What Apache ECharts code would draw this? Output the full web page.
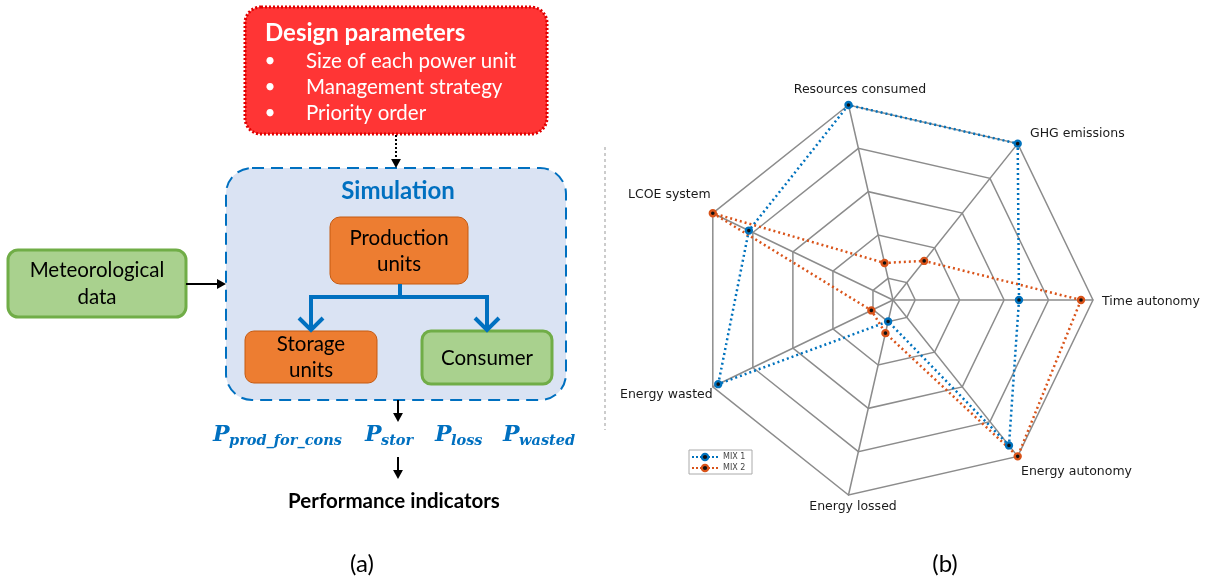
<!DOCTYPE html>
<html>
<head>
<meta charset="utf-8">
<script src="https://cdn.jsdelivr.net/npm/echarts@6/dist/echarts.min.js"></script>
<style>
  html, body { margin: 0; padding: 0; background: #fff; }
  #main { width: 1208px; height: 583px; }
</style>
</head>
<body>
<div id="main"></div>
<script>
// Radar data (normalised to the outer ring)
var indicatorNames = ['Time autonomy', 'GHG emissions', 'Resources consumed', 'LCOE system',
    'Energy wasted', 'Energy lossed', 'Energy autonomy'];
var seriesNames = ['MIX 1', 'MIX 2'];
var mix1Values = [0.63, 1.0, 1.0, 0.80, 0.97, 0.11, 0.93];
var mix2Values = [0.94, 0.25, 0.19, 1.0, 0.12, 0.17, 1.0];
var seriesColors = ['#0072BD', '#D95319'];

// Diagram texts
var designLines = ['Size of each power unit', 'Management strategy', 'Priority order'];
var powerLabels = [['P', 'prod_for_cons'], ['P', 'stor'], ['P', 'loss'], ['P', 'wasted']];

var chart = echarts.init(document.getElementById('main'));

// Small helpers for the diagram elements
var BLUE = '#0070C0';
var FONT = 'Lato, "Open Sans", sans-serif';
var els = [];

function box(x, y, w, h, r, fill, stroke, lw, dash) {
    els.push({
        type: 'rect', z2: 1,
        shape: { x: x, y: y, width: w, height: h, r: r },
        style: { fill: fill, stroke: stroke, lineWidth: lw, lineDash: dash || null }
    });
}
function label(x, y, str, font, fill, align) {
    els.push({
        type: 'text', z2: 10,
        style: {
            x: x, y: y, text: str, font: font, fill: fill || '#000',
            align: align || 'center', verticalAlign: 'middle'
        }
    });
}
function line(points, stroke, lw, dash) {
    els.push({
        type: 'polyline', z2: 5,
        shape: { points: points },
        style: { stroke: stroke, lineWidth: lw, lineDash: dash || null, fill: null }
    });
}
function headDown(x, y, size) {
    els.push({
        type: 'polygon', z2: 6,
        shape: { points: [[x - size * 0.55, y - size], [x + size * 0.55, y - size], [x, y]] },
        style: { fill: '#000' }
    });
}
function headRight(x, y, size) {
    els.push({
        type: 'polygon', z2: 6,
        shape: { points: [[x - size, y - size * 0.55], [x - size, y + size * 0.55], [x, y]] },
        style: { fill: '#000' }
    });
}

// Design parameters
box(245, 7, 302, 127, 16, '#FF3535', '#E00000', 3, [2, 2]);
label(265, 33, 'Design parameters', 'bold 24px ' + FONT, '#fff', 'left');
designLines.forEach(function (t, i) {
    label(270, 61 + i * 26, '\u2022', '19px ' + FONT, '#fff');
    label(306, 61 + i * 26, t, '20.5px ' + FONT, '#fff', 'left');
});
line([[396, 135], [396, 160]], '#000', 2, [2, 2]);
headDown(396, 168, 9);

// Simulation block
box(226, 168, 340, 232, 26, '#DAE3F3', BLUE, 2, [12, 7]);
label(398, 191, 'Simulation', 'bold 24px ' + FONT, BLUE);

var bodyFont = '20.5px ' + FONT;
box(330, 217, 138, 67, 10, '#ED7D31', '#C55A11', 1);
label(399, 238, 'Production', bodyFont, '#000');
label(399, 264, 'units', bodyFont, '#000');

box(245, 331, 132, 52, 9, '#ED7D31', '#C55A11', 1);
label(311, 344, 'Storage', bodyFont, '#000');
label(311, 370, 'units', bodyFont, '#000');

box(422, 331, 130, 53, 9, '#A9D18E', '#70AD47', 3);
label(487, 358, 'Consumer', bodyFont, '#000');

line([[400, 284], [400, 297]], BLUE, 4);
line([[311, 329], [311, 297], [487, 297], [487, 329]], BLUE, 4);
line([[299, 318], [311, 330], [323, 318]], BLUE, 4);
line([[475, 318], [487, 330], [499, 318]], BLUE, 4);

// Meteorological data
box(8, 250, 178, 67, 10, '#A9D18E', '#70AD47', 3);
label(97, 270, 'Meteorological', bodyFont, '#000');
label(97, 297, 'data', bodyFont, '#000');
line([[186, 284], [218, 284]], '#000', 2);
headRight(226, 284, 9);

// Outputs
line([[398, 400], [398, 413]], '#000', 2);
headDown(398, 422, 9);
var pX = [213, 365, 435, 503];
powerLabels.forEach(function (p, i) {
    label(pX[i], 435, p[0], 'italic bold 22px "DejaVu Serif", serif', BLUE, 'left');
    label(pX[i] + 16, 441, p[1], 'italic bold 14.5px "DejaVu Serif", serif', BLUE, 'left');
});
line([[398, 457], [398, 470]], '#000', 2);
headDown(398, 479, 9);
label(394, 501, 'Performance indicators', 'bold 20.5px ' + FONT, '#000');

label(362, 564, '(a)', '24px ' + FONT, '#000');
label(945, 564, '(b)', '24px ' + FONT, '#000');

// Separator
line([[605, 147], [605, 430]], '#999', 1, [3, 3]);

// Radar axis names
var nameFont = '12.5px "DejaVu Sans", sans-serif';
var namePos = [[1102, 302, 'left'], [1030, 134, 'left'], [860, 90, 'center'], [628, 195, 'left'],
    [620, 395, 'left'], [853, 507, 'center'], [1021, 472, 'left']];
indicatorNames.forEach(function (n, i) {
    label(namePos[i][0], namePos[i][1], n, nameFont, '#1a1a1a', namePos[i][2]);
});

// Legend
box(689, 450, 63, 24, 0, '#fff', '#aaa', 1);
seriesNames.forEach(function (n, i) {
    var y = 457 + i * 11;
    line([[692, y], [718, y]], seriesColors[i], 2, [2, 2]);
    els.push({
        type: 'circle', z2: 7,
        shape: { cx: 705, cy: y, r: 3.2 },
        style: { fill: '#111', stroke: seriesColors[i], lineWidth: 2.2 }
    });
    label(723, y, n, '8px "DejaVu Sans", sans-serif', '#444', 'left');
});

chart.setOption({
    backgroundColor: '#fff',
    animation: false,

    radar: {
        center: [893, 300],
        radius: 200,
        startAngle: 0,
        splitNumber: 9,
        shape: 'polygon',
        indicator: indicatorNames.map(function (n) {
            return { name: n, min: 0, max: 1 };
        }),
        axisName: { show: false },
        axisLine: { lineStyle: { color: '#8C8C8C', width: 1.5 } },
        splitLine: { lineStyle: { color: ['rgba(0,0,0,0)', '#8C8C8C'], width: 1.5 } },
        splitArea: { show: false },
        axisTick: { show: false },
        axisLabel: { show: false }
    },

    series: [{
        type: 'radar',
        silent: true,
        z: 5,
        data: [mix1Values, mix2Values].map(function (vals, i) {
            return {
                name: seriesNames[i],
                value: vals,
                symbol: 'circle',
                symbolSize: 6,
                lineStyle: { color: seriesColors[i], width: 2.5, type: [2, 3] },
                itemStyle: { color: '#111', borderColor: seriesColors[i], borderWidth: 2.4 }
            };
        })
    }],

    graphic: { elements: els }
});
</script>
</body>
</html>
